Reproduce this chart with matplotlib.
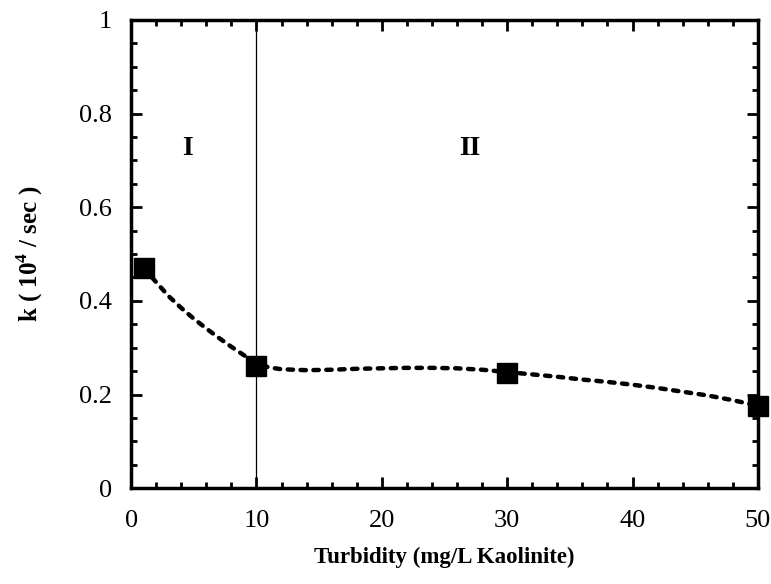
import matplotlib
matplotlib.use('Agg')
import matplotlib.pyplot as plt
from matplotlib.ticker import MultipleLocator

# measured points
turbidity = [1, 10, 30, 50]
k_values = [0.47, 0.262, 0.247, 0.176]

# dashed trend curve
curve_x = [1, 2, 3, 4, 5, 6, 7, 8, 9, 10, 11, 12, 14, 16, 18, 20, 22, 24,
           26, 28, 30, 32, 34, 36, 38, 40, 42, 44, 46, 48, 50]
curve_y = [0.47, 0.440, 0.410, 0.385, 0.362, 0.341, 0.321, 0.302, 0.284,
           0.266, 0.258, 0.254, 0.252, 0.253, 0.255, 0.256, 0.257, 0.257,
           0.256, 0.253, 0.248, 0.243, 0.238, 0.232, 0.227, 0.221, 0.214,
           0.206, 0.198, 0.188, 0.176]

regions = ['I', 'II']
region_x = [4.5, 27]
region_y = [0.725, 0.725]
boundary = 10

serif = ['Liberation Serif', 'DejaVu Serif']
plt.rcParams['font.family'] = serif
plt.rcParams['mathtext.fontset'] = 'custom'
plt.rcParams['mathtext.rm'] = 'Liberation Serif:bold'
plt.rcParams['mathtext.bf'] = 'Liberation Serif:bold'

fig = plt.figure(figsize=(7.71, 5.84), dpi=100)
ax = fig.add_axes([0.170, 0.164, 0.813, 0.802])

ax.axvline(boundary, color='black', lw=0.9, zorder=1)
ax.plot(curve_x, curve_y, color='black', lw=3.2, linestyle=(0, (1.2, 1.7)),
        dash_capstyle='round', zorder=2)
ax.plot(turbidity, k_values, linestyle='none', marker='s', markersize=14.5,
        color='black', zorder=3, clip_on=False)

for lab, xx, yy in zip(regions, region_x, region_y):
    ax.text(xx, yy, lab, ha='center', va='center', fontsize=20,
            fontweight='bold')

ax.set_xlim(0, 50)
ax.set_ylim(0, 1)
ax.xaxis.set_major_locator(MultipleLocator(10))
ax.xaxis.set_minor_locator(MultipleLocator(2))
ax.yaxis.set_minor_locator(MultipleLocator(0.05))
ax.set_yticks([0, 0.2, 0.4, 0.6, 0.8, 1.0])
ax.set_yticklabels(['0', '0.2', '0.4', '0.6', '0.8', '1'])

ax.tick_params(which='both', direction='in', top=True, right=True,
               width=2, labelsize=19)
ax.tick_params(which='major', length=8)
ax.tick_params(which='minor', length=4)
ax.tick_params(axis='x', pad=16)
ax.tick_params(axis='y', pad=14)
for s in ax.spines.values():
    s.set_linewidth(2.5)

ax.set_xlabel('Turbidity (mg/L Kaolinite)', fontsize=16.5, fontweight='bold',
              labelpad=10)
ax.set_ylabel(r'k ( 10$^{\mathbf{4}}$ / sec )', fontsize=18, fontweight='bold',
              labelpad=24)

fig.savefig('out.png', dpi=100)
